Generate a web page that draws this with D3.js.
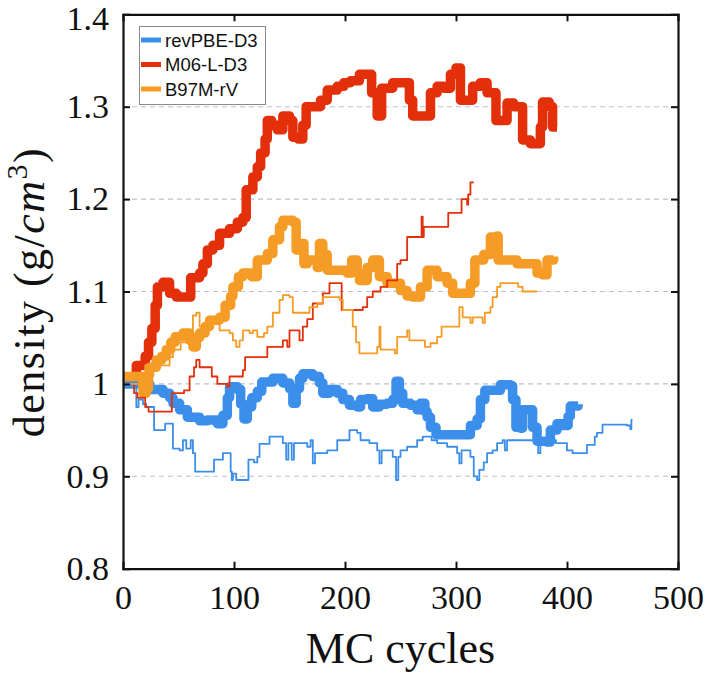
<!DOCTYPE html>
<html>
<head>
<meta charset="utf-8">
<script src="https://cdn.jsdelivr.net/npm/d3@7"></script>
<style>
html,body{margin:0;padding:0;background:#fff;}
svg{display:block;}
</style>
</head>
<body>
<svg id="chart" width="708" height="674"></svg>
<script>
// ---- data (MC cycle, density g/cm3) ----
const seriesNames = ["revPBE-D3", "M06-L-D3", "B97M-rV"];
const seriesColors = ["#3B8EEA", "#E3300B", "#F59C26"];
const xTicks = [0, 100, 200, 300, 400, 500];
const yTicks = [0.8, 0.9, 1.0, 1.1, 1.2, 1.3, 1.4];
const yTickLabels = ["0.8", "0.9", "1", "1.1", "1.2", "1.3", "1.4"];
const gridValues = [0.9, 1.0, 1.1, 1.2, 1.3];

const blueThick = [[0,1.0],[22,1.0],[24,0.994],[36,0.99],[42,0.985],[45,0.979],[51,0.972],[58,0.964],[69,0.96],[76,0.961],[85,0.957],[90,0.966],[94,0.985],[96,0.997],[103,0.994],[106,0.978],[109,0.962],[112,0.975],[116,0.985],[121,0.992],[125,1.002],[135,1.006],[144,1.001],[150,0.995],[153,0.979],[156,0.995],[159,1.006],[162,1.011],[171,1.008],[177,1.001],[180,0.99],[186,0.994],[193,0.99],[198,0.983],[204,0.977],[211,0.975],[214,0.983],[220,0.984],[225,0.975],[231,0.978],[238,0.979],[243,0.983],[246,1.003],[249,0.99],[252,0.979],[259,0.977],[265,0.972],[268,0.979],[272,0.97],[274,0.964],[277,0.953],[282,0.945],[310,0.945],[313,0.955],[319,0.962],[322,0.983],[326,0.993],[340,0.999],[349,0.998],[351,0.983],[354,0.953],[358,0.952],[360,0.972],[367,0.972],[369,0.953],[373,0.938],[382,0.937],[385,0.95],[391,0.957],[396,0.955],[401,0.965],[403,0.976],[410,0.978]];

const redThick = [[8,1.01],[12,1.02],[20,1.03],[23,1.045],[26,1.06],[29,1.085],[31,1.105],[36,1.11],[42,1.098],[48,1.094],[60,1.094],[61,1.115],[69,1.12],[72,1.13],[76,1.145],[81,1.15],[87,1.163],[96,1.168],[103,1.175],[108,1.18],[111,1.21],[117,1.224],[121,1.235],[124,1.25],[128,1.265],[130,1.285],[134,1.28],[139,1.275],[144,1.29],[150,1.285],[153,1.267],[158,1.265],[162,1.28],[165,1.30],[172,1.30],[178,1.307],[184,1.318],[193,1.322],[199,1.326],[205,1.328],[213,1.335],[218,1.335],[224,1.315],[229,1.29],[233,1.32],[243,1.326],[253,1.326],[258,1.307],[261,1.29],[274,1.29],[277,1.315],[283,1.322],[289,1.32],[295,1.335],[300,1.342],[304,1.307],[315,1.322],[322,1.326],[328,1.315],[336,1.285],[342,1.285],[346,1.304],[352,1.3],[358,1.3],[360,1.264],[367,1.26],[373,1.26],[376,1.278],[378,1.305],[384,1.30],[387,1.278],[391,1.278]];

const orangeThick = [[0,1.008],[16,1.008],[18,0.99],[21,0.995],[23,1.01],[24,1.018],[30,1.026],[35,1.03],[39,1.037],[43,1.045],[47,1.051],[54,1.055],[60,1.047],[63,1.04],[66,1.05],[69,1.055],[74,1.062],[78,1.069],[87,1.072],[92,1.085],[97,1.095],[99,1.105],[104,1.116],[108,1.12],[116,1.116],[121,1.134],[130,1.141],[135,1.156],[141,1.17],[144,1.177],[153,1.175],[156,1.145],[160,1.152],[163,1.13],[166,1.134],[175,1.126],[177,1.152],[180,1.14],[184,1.123],[198,1.123],[202,1.12],[206,1.134],[211,1.12],[213,1.112],[220,1.126],[225,1.134],[231,1.116],[238,1.109],[250,1.101],[256,1.095],[261,1.094],[268,1.105],[274,1.123],[283,1.116],[292,1.109],[297,1.098],[306,1.098],[313,1.109],[317,1.134],[325,1.14],[331,1.159],[337,1.16],[338,1.134],[349,1.134],[355,1.13],[369,1.13],[373,1.12],[378,1.118],[382,1.134],[388,1.138]];

const blueThin = [[0,1.0],[11,1.0],[12,0.975],[14,0.983],[18,0.978],[21,0.975],[27,0.975],[28,0.95],[36,0.95],[38,0.957],[44,0.957],[45,0.93],[51,0.928],[54,0.939],[57,0.93],[61,0.939],[63,0.925],[65,0.905],[80,0.905],[82,0.918],[88,0.918],[90,0.925],[94,0.925],[97,0.905],[98,0.896],[99,0.903],[102,0.896],[111,0.896],[113,0.918],[118,0.915],[121,0.921],[123,0.935],[131,0.935],[132,0.943],[141,0.943],[144,0.936],[147,0.918],[149,0.936],[152,0.918],[154,0.936],[166,0.932],[169,0.939],[171,0.914],[173,0.925],[184,0.928],[193,0.939],[202,0.939],[204,0.95],[211,0.947],[214,0.939],[222,0.936],[229,0.928],[231,0.914],[233,0.928],[243,0.921],[246,0.896],[248,0.921],[250,0.928],[256,0.932],[265,0.939],[270,0.943],[278,0.939],[283,0.936],[292,0.932],[301,0.925],[303,0.914],[305,0.928],[313,0.921],[316,0.9],[319,0.896],[321,0.907],[325,0.915],[328,0.925],[333,0.928],[337,0.936],[342,0.939],[344,0.928],[346,0.939],[373,0.939],[374,0.925],[376,0.939],[385,0.939],[390,0.936],[400,0.928],[405,0.925],[414,0.925],[418,0.934],[425,0.943],[427,0.947],[432,0.956],[454,0.955],[457,0.951],[458,0.961],[459,0.961]];

const redThin = [[0,1.0],[10,0.99],[13,0.985],[20,0.975],[23,0.97],[44,0.99],[55,0.993],[60,1.008],[64,1.018],[66,1.026],[69,1.018],[78,1.018],[80,1.008],[85,1.0],[94,0.997],[96,1.008],[108,1.015],[110,1.029],[128,1.029],[130,1.04],[143,1.04],[144,1.047],[148,1.04],[150,1.058],[158,1.058],[159,1.047],[162,1.062],[166,1.07],[171,1.087],[180,1.098],[186,1.109],[196,1.109],[197,1.08],[202,1.08],[216,1.083],[220,1.094],[225,1.10],[232,1.105],[238,1.112],[247,1.13],[250,1.134],[256,1.159],[268,1.159],[269,1.181],[270,1.159],[271,1.17],[292,1.17],[293,1.185],[304,1.185],[305,1.2],[309,1.2],[310,1.194],[311,1.205],[313,1.218],[316,1.218]];

const orangeThin = [[0,1.0],[15,1.0],[20,1.02],[42,1.029],[45,1.037],[52,1.045],[58,1.058],[63,1.074],[66,1.077],[69,1.062],[72,1.062],[75,1.069],[86,1.069],[87,1.058],[96,1.055],[99,1.047],[102,1.04],[105,1.047],[108,1.058],[114,1.055],[117,1.058],[121,1.051],[127,1.055],[130,1.062],[135,1.077],[141,1.091],[144,1.096],[150,1.094],[153,1.077],[168,1.083],[175,1.087],[180,1.094],[195,1.091],[198,1.08],[207,1.062],[210,1.045],[213,1.033],[229,1.04],[231,1.062],[232,1.037],[244,1.037],[245,1.033],[247,1.051],[252,1.051],[256,1.058],[258,1.047],[272,1.04],[277,1.044],[283,1.051],[287,1.062],[303,1.083],[306,1.072],[313,1.066],[315,1.072],[322,1.072],[324,1.066],[326,1.077],[331,1.083],[333,1.094],[337,1.105],[340,1.109],[356,1.105],[360,1.1],[373,1.1]];

// ---- drawing ----
const svg = d3.select("#chart");
const x = d3.scaleLinear().domain([0, 500]).range([123, 678]);
const y = d3.scaleLinear().domain([0.8, 1.4]).range([568.7, 14.3]);
const serif = "'Liberation Serif','DejaVu Serif',serif";

// grid
svg.append("g").selectAll("line").data(gridValues).join("line")
  .attr("x1", x(0)).attr("x2", x(500))
  .attr("y1", d => y(d)).attr("y2", d => y(d))
  .attr("stroke", "#b9c3ca").attr("stroke-width", 1.1)
  .attr("stroke-dasharray", "5,4");

// lines
const line = d3.line().x(d => x(d[0])).y(d => y(d[1])).curve(d3.curveStepAfter);
const layers = [
  {data: blueThick, c: 0, w: 9.5},
  {data: redThick, c: 1, w: 9.5},
  {data: orangeThick, c: 2, w: 9.5},
  {data: blueThin, c: 0, w: 1.8},
  {data: redThin, c: 1, w: 1.8},
  {data: orangeThin, c: 2, w: 1.8}
];
const lg = svg.append("g");
layers.forEach(l => {
  lg.append("path").datum(l.data).attr("d", line)
    .attr("fill", "none").attr("stroke", seriesColors[l.c])
    .attr("stroke-width", l.w).attr("stroke-linejoin", "round");
});

// axes (boxed, ticks inward)
const axB = d3.axisBottom(x).tickValues(xTicks).tickSize(-7).tickPadding(16).tickFormat(d3.format("d"));
const axT = d3.axisTop(x).tickValues(xTicks).tickSize(-7).tickFormat("");
const axL = d3.axisLeft(y).tickValues(yTicks).tickSize(-7).tickPadding(14).tickFormat((d,i) => yTickLabels[i]);
const axR = d3.axisRight(y).tickValues(yTicks).tickSize(-7).tickFormat("");

function styleAxis(g) {
  g.select(".domain").attr("stroke", "#111").attr("stroke-width", 2.2);
  g.selectAll(".tick line").attr("stroke", "#111").attr("stroke-width", 2);
  g.selectAll(".tick text").attr("font-family", serif).attr("font-size", 34).attr("fill", "#111");
}
svg.append("g").attr("transform", `translate(0,${y(0.8)})`).call(axB).call(styleAxis)
  .selectAll(".tick text").attr("dy", "0.72em").attr("y", 16);
svg.append("g").attr("transform", `translate(0,${y(1.4)})`).call(axT).call(styleAxis);
const gL = svg.append("g").attr("transform", `translate(${x(0)},0)`).call(axL).call(styleAxis);
// keep the top label's box inside the picture
gL.selectAll(".tick").filter(d => d === 1.4).select("text").attr("y", 4);
svg.append("g").attr("transform", `translate(${x(500)},0)`).call(axR).call(styleAxis);
// remove ticks at frame corners
svg.selectAll(".tick").filter(d => d === 0 || d === 500 || d === 0.8 || d === 1.4).select("line").remove();

// axis labels
svg.append("text").attr("x", 400.5).attr("y", 663).attr("text-anchor", "middle")
  .attr("font-family", serif).attr("font-size", 44).attr("fill", "#111").text("MC cycles");

const yl = svg.append("text").attr("transform", "translate(44,292) rotate(-90)")
  .attr("text-anchor", "middle").attr("font-family", serif).attr("font-size", 44)
  .attr("letter-spacing", 1.5).attr("fill", "#111");
yl.append("tspan").text("density (g/");
yl.append("tspan").attr("font-style", "italic").text("cm");
yl.append("tspan").attr("font-size", 30).attr("dy", -17).text("3");
yl.append("tspan").attr("dy", 17).text(")");

// legend
const leg = svg.append("g");
leg.append("rect").attr("x", 139.5).attr("y", 26.5).attr("width", 126).attr("height", 78)
  .attr("fill", "#fff").attr("stroke", "#8a8a8a").attr("stroke-width", 1);
seriesNames.forEach((n, i) => {
  const yy = 40 + i * 24.5;
  leg.append("line").attr("x1", 141).attr("x2", 161).attr("y1", yy).attr("y2", yy)
    .attr("stroke", seriesColors[i]).attr("stroke-width", 5);
  leg.append("text").attr("x", 165).attr("y", yy).attr("dy", "0.36em")
    .attr("font-family", "'Liberation Sans',Arial,sans-serif").attr("font-size", 18.5)
    .attr("fill", "#111").text(n);
});
</script>
</body>
</html>
